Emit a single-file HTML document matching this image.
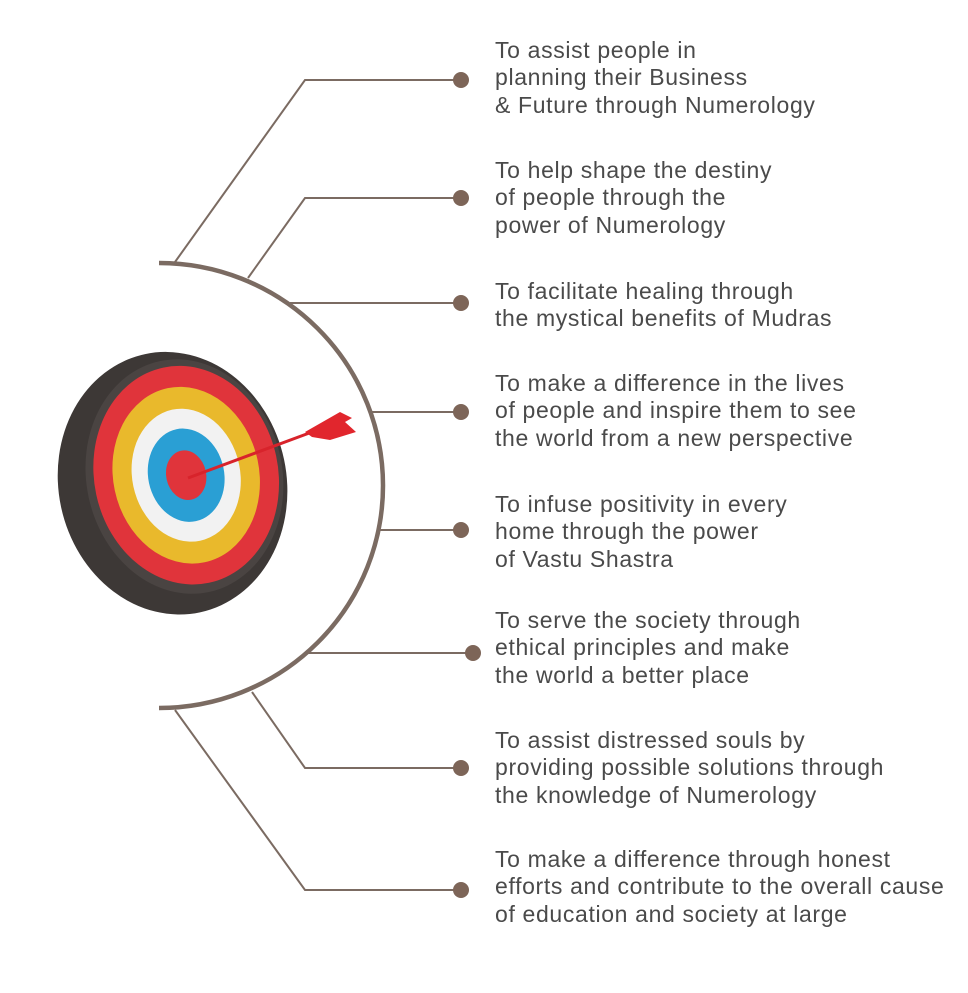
<!DOCTYPE html>
<html><head><style>
body{margin:0;background:#fff;width:968px;height:993px;overflow:hidden;position:relative;font-family:"Liberation Sans",Arial,sans-serif}
.t{position:absolute;left:495px;font-size:23px;line-height:27.3px;color:#4a4a4a;letter-spacing:0.65px;white-space:nowrap}
</style></head><body>
<svg width="968" height="993" style="position:absolute;left:0;top:0">
<g stroke="#7b6b62" stroke-width="2" fill="none">
<polyline points="175,262 305,80 461,80"/>
<polyline points="248,278 305,198 461,198"/>
<line x1="290" y1="303" x2="461" y2="303"/>
<line x1="372" y1="412" x2="461" y2="412"/>
<line x1="378" y1="530" x2="461" y2="530"/>
<line x1="308" y1="653" x2="473" y2="653"/>
<polyline points="252,692 305,768 461,768"/>
<polyline points="175,710 305,890 461,890"/>
</g>
<path d="M159,263 A224,222.5 0 0 1 383,485.5 A224,222.5 0 0 1 159,708" stroke="#7b6b62" stroke-width="4.5" fill="none"/>
<g fill="#7d6558">
<circle cx="461" cy="80" r="8"/><circle cx="461" cy="198" r="8"/><circle cx="461" cy="303" r="8"/>
<circle cx="461" cy="412" r="8"/><circle cx="461" cy="530" r="8"/><circle cx="473" cy="653" r="8"/>
<circle cx="461" cy="768" r="8"/><circle cx="461" cy="890" r="8"/>
</g>
<g transform="rotate(-12 178 480)">
<ellipse cx="172" cy="482" rx="114" ry="132" fill="#3d3836"/>
<ellipse cx="185" cy="478" rx="98" ry="118" fill="#4a4442"/>
<ellipse cx="187" cy="477" rx="92" ry="110" fill="#e0343b"/>
<ellipse cx="187" cy="477" rx="73" ry="89" fill="#e9b92c"/>
<ellipse cx="187" cy="477" rx="54" ry="67" fill="#f2f2f2"/>
<ellipse cx="187" cy="477" rx="38" ry="47" fill="#2a9fd4"/>
<ellipse cx="187" cy="477" rx="20" ry="25" fill="#e0343b"/>
</g>
<line x1="188" y1="478" x2="312" y2="432" stroke="#d8232b" stroke-width="3"/>
<polygon points="305,432 340,412 352,418 345,422 356,432 330,440 312,437" fill="#e1262d"/>
</svg>
<div class="t" style="top:37px">To assist people in<br>planning their Business<br>&amp; Future through Numerology</div>
<div class="t" style="top:157px">To help shape the destiny<br>of people through the<br>power of Numerology</div>
<div class="t" style="top:278px">To facilitate healing through<br>the mystical benefits of Mudras</div>
<div class="t" style="top:370px">To make a difference in the lives<br>of people and inspire them to see<br>the world from a new perspective</div>
<div class="t" style="top:491px">To infuse positivity in every<br>home through the power<br>of Vastu Shastra</div>
<div class="t" style="top:607px">To serve the society through<br>ethical principles and make<br>the world a better place</div>
<div class="t" style="top:727px">To assist distressed souls by<br>providing possible solutions through<br>the knowledge of Numerology</div>
<div class="t" style="top:846px">To make a difference through honest<br>efforts and contribute to the overall cause<br>of education and society at large</div>
</body></html>
